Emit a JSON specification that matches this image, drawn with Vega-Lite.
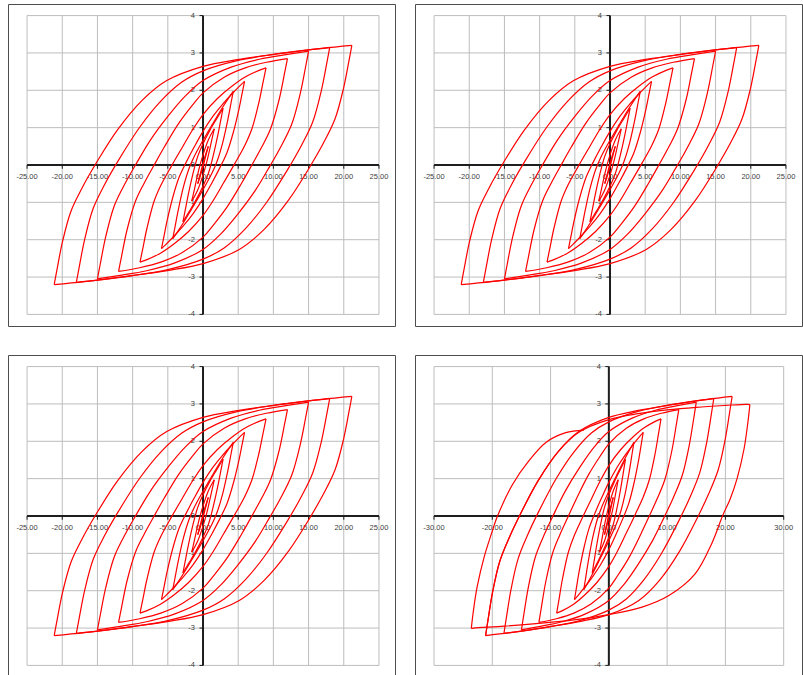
{
"$schema":"https://vega.github.io/schema/vega-lite/v6.json",
"background":"white",
"padding":{"left":7,"top":3,"right":0,"bottom":0},
"config":{"view":{"stroke":"#4d4d4d","strokeWidth":1},"axis":{"disable":true}},
"datasets":{
"gA":[{"v":-25,"t":"-25.00"},{"v":-20,"t":"-20.00"},{"v":-15,"t":"-15.00"},{"v":-10,"t":"-10.00"},{"v":-5,"t":"-5.00"},{"v":0,"t":"0.00"},{"v":5,"t":"5.00"},{"v":10,"t":"10.00"},{"v":15,"t":"15.00"},{"v":20,"t":"20.00"},{"v":25,"t":"25.00"}],
"gB":[{"v":-30,"t":"-30.00"},{"v":-20,"t":"-20.00"},{"v":-10,"t":"-10.00"},{"v":0,"t":"0.00"},{"v":10,"t":"10.00"},{"v":20,"t":"20.00"},{"v":30,"t":"30.00"}],
"gy":[{"v":-4,"t":"-4"},{"v":-3,"t":"-3"},{"v":-2,"t":"-2"},{"v":-1,"t":"-1"},{"v":0,"t":"0"},{"v":1,"t":"1"},{"v":2,"t":"2"},{"v":3,"t":"3"},{"v":4,"t":"4"}],
"L":[
{"s":"1d","x":21.15,"y":3.2},{"s":"1d","x":20.75,"y":2.8},{"s":"1d","x":19.95,"y":2.04},{"s":"1d","x":18.75,"y":1.23},{"s":"1d","x":17.15,"y":0.6},{"s":"1d","x":15.15,"y":-0.06},{"s":"1d","x":12.15,"y":-0.94},{"s":"1d","x":8.65,"y":-1.73},{"s":"1d","x":5.15,"y":-2.26},{"s":"1d","x":0,"y":-2.64},{"s":"1d","x":-4.85,"y":-2.82},{"s":"1d","x":-10.85,"y":-2.98},{"s":"1d","x":-16.85,"y":-3.12},{"s":"1d","x":-21.15,"y":-3.2},
{"s":"1r","x":-21.15,"y":-3.2},{"s":"1r","x":-20.75,"y":-2.8},{"s":"1r","x":-19.95,"y":-2.04},{"s":"1r","x":-18.75,"y":-1.23},{"s":"1r","x":-17.15,"y":-0.6},{"s":"1r","x":-15.15,"y":0.06},{"s":"1r","x":-12.15,"y":0.94},{"s":"1r","x":-8.65,"y":1.73},{"s":"1r","x":-5.15,"y":2.26},{"s":"1r","x":0,"y":2.64},{"s":"1r","x":4.85,"y":2.82},{"s":"1r","x":10.85,"y":2.98},{"s":"1r","x":16.85,"y":3.12},{"s":"1r","x":21.15,"y":3.2},
{"s":"2d","x":18,"y":3.14},{"s":"2d","x":17.6,"y":2.74},{"s":"2d","x":16.8,"y":1.98},{"s":"2d","x":15.6,"y":1.16},{"s":"2d","x":14,"y":0.53},{"s":"2d","x":12,"y":-0.13},{"s":"2d","x":9,"y":-1.01},{"s":"2d","x":6,"y":-1.71},{"s":"2d","x":3,"y":-2.22},{"s":"2d","x":0,"y":-2.52},{"s":"2d","x":-5,"y":-2.8},{"s":"2d","x":-10,"y":-2.96},{"s":"2d","x":-15,"y":-3.08},{"s":"2d","x":-18,"y":-3.14},
{"s":"2r","x":-18,"y":-3.14},{"s":"2r","x":-17.6,"y":-2.74},{"s":"2r","x":-16.8,"y":-1.98},{"s":"2r","x":-15.6,"y":-1.16},{"s":"2r","x":-14,"y":-0.53},{"s":"2r","x":-12,"y":0.13},{"s":"2r","x":-9,"y":1.01},{"s":"2r","x":-6,"y":1.71},{"s":"2r","x":-3,"y":2.22},{"s":"2r","x":0,"y":2.52},{"s":"2r","x":5,"y":2.8},{"s":"2r","x":10,"y":2.96},{"s":"2r","x":15,"y":3.08},{"s":"2r","x":18,"y":3.14},
{"s":"3d","x":15,"y":3.05},{"s":"3d","x":14.6,"y":2.65},{"s":"3d","x":13.8,"y":1.9},{"s":"3d","x":12.6,"y":1.09},{"s":"3d","x":11,"y":0.47},{"s":"3d","x":9.5,"y":-0.03},{"s":"3d","x":7.5,"y":-0.66},{"s":"3d","x":5,"y":-1.3},{"s":"3d","x":2.5,"y":-1.85},{"s":"3d","x":0,"y":-2.26},{"s":"3d","x":-4,"y":-2.62},{"s":"3d","x":-8,"y":-2.83},{"s":"3d","x":-12,"y":-2.96},{"s":"3d","x":-15,"y":-3.05},
{"s":"3r","x":-15,"y":-3.05},{"s":"3r","x":-14.6,"y":-2.65},{"s":"3r","x":-13.8,"y":-1.9},{"s":"3r","x":-12.6,"y":-1.09},{"s":"3r","x":-11,"y":-0.47},{"s":"3r","x":-9.5,"y":0.03},{"s":"3r","x":-7.5,"y":0.66},{"s":"3r","x":-5,"y":1.3},{"s":"3r","x":-2.5,"y":1.85},{"s":"3r","x":0,"y":2.26},{"s":"3r","x":4,"y":2.62},{"s":"3r","x":8,"y":2.83},{"s":"3r","x":12,"y":2.96},{"s":"3r","x":15,"y":3.05},
{"s":"4d","x":12,"y":2.85},{"s":"4d","x":11.6,"y":2.47},{"s":"4d","x":10.8,"y":1.74},{"s":"4d","x":9.6,"y":0.97},{"s":"4d","x":8.4,"y":0.5},{"s":"4d","x":7,"y":0.02},{"s":"4d","x":5.5,"y":-0.48},{"s":"4d","x":3.5,"y":-1.1},{"s":"4d","x":1.5,"y":-1.6},{"s":"4d","x":0,"y":-1.93},{"s":"4d","x":-3,"y":-2.35},{"s":"4d","x":-6,"y":-2.6},{"s":"4d","x":-9,"y":-2.75},{"s":"4d","x":-12,"y":-2.85},
{"s":"4r","x":-12,"y":-2.85},{"s":"4r","x":-11.6,"y":-2.47},{"s":"4r","x":-10.8,"y":-1.74},{"s":"4r","x":-9.6,"y":-0.97},{"s":"4r","x":-8.4,"y":-0.5},{"s":"4r","x":-7,"y":-0.02},{"s":"4r","x":-5.5,"y":0.48},{"s":"4r","x":-3.5,"y":1.1},{"s":"4r","x":-1.5,"y":1.6},{"s":"4r","x":0,"y":1.93},{"s":"4r","x":3,"y":2.35},{"s":"4r","x":6,"y":2.6},{"s":"4r","x":9,"y":2.75},{"s":"4r","x":12,"y":2.85},
{"s":"5d","x":8.95,"y":2.6},{"s":"5d","x":8.55,"y":2.23},{"s":"5d","x":7.95,"y":1.68},{"s":"5d","x":6.95,"y":0.97},{"s":"5d","x":5.95,"y":0.53},{"s":"5d","x":4.55,"y":0.05},{"s":"5d","x":2.95,"y":-0.47},{"s":"5d","x":1.45,"y":-0.95},{"s":"5d","x":0,"y":-1.35},{"s":"5d","x":-2.05,"y":-1.78},{"s":"5d","x":-4.05,"y":-2.1},{"s":"5d","x":-6.05,"y":-2.36},{"s":"5d","x":-8.05,"y":-2.54},{"s":"5d","x":-8.95,"y":-2.6},
{"s":"5r","x":-8.95,"y":-2.6},{"s":"5r","x":-8.55,"y":-2.23},{"s":"5r","x":-7.95,"y":-1.68},{"s":"5r","x":-6.95,"y":-0.97},{"s":"5r","x":-5.95,"y":-0.53},{"s":"5r","x":-4.55,"y":-0.05},{"s":"5r","x":-2.95,"y":0.47},{"s":"5r","x":-1.45,"y":0.95},{"s":"5r","x":0,"y":1.35},{"s":"5r","x":2.05,"y":1.78},{"s":"5r","x":4.05,"y":2.1},{"s":"5r","x":6.05,"y":2.36},{"s":"5r","x":8.05,"y":2.54},{"s":"5r","x":8.95,"y":2.6},
{"s":"6d","x":5.9,"y":2.24},{"s":"6d","x":5.6,"y":1.96},{"s":"6d","x":5.1,"y":1.49},{"s":"6d","x":4.3,"y":0.87},{"s":"6d","x":3.4,"y":0.33},{"s":"6d","x":2.4,"y":-0.07},{"s":"6d","x":1.2,"y":-0.5},{"s":"6d","x":0,"y":-0.9},{"s":"6d","x":-1.4,"y":-1.3},{"s":"6d","x":-2.8,"y":-1.63},{"s":"6d","x":-4.1,"y":-1.9},{"s":"6d","x":-5.3,"y":-2.13},{"s":"6d","x":-5.9,"y":-2.24},
{"s":"6r","x":-5.9,"y":-2.24},{"s":"6r","x":-5.6,"y":-1.96},{"s":"6r","x":-5.1,"y":-1.49},{"s":"6r","x":-4.3,"y":-0.87},{"s":"6r","x":-3.4,"y":-0.33},{"s":"6r","x":-2.4,"y":0.07},{"s":"6r","x":-1.2,"y":0.5},{"s":"6r","x":0,"y":0.9},{"s":"6r","x":1.4,"y":1.3},{"s":"6r","x":2.8,"y":1.63},{"s":"6r","x":4.1,"y":1.9},{"s":"6r","x":5.3,"y":2.13},{"s":"6r","x":5.9,"y":2.24},
{"s":"7d","x":4.3,"y":1.97},{"s":"7d","x":4,"y":1.68},{"s":"7d","x":3.5,"y":1.19},{"s":"7d","x":2.8,"y":0.6},{"s":"7d","x":2,"y":0.1},{"s":"7d","x":1.3,"y":-0.21},{"s":"7d","x":0,"y":-0.66},{"s":"7d","x":-1.3,"y":-1.08},{"s":"7d","x":-2.7,"y":-1.52},{"s":"7d","x":-3.7,"y":-1.81},{"s":"7d","x":-4.3,"y":-1.97},
{"s":"7r","x":-4.3,"y":-1.97},{"s":"7r","x":-4,"y":-1.68},{"s":"7r","x":-3.5,"y":-1.19},{"s":"7r","x":-2.8,"y":-0.6},{"s":"7r","x":-2,"y":-0.1},{"s":"7r","x":-1.3,"y":0.21},{"s":"7r","x":0,"y":0.66},{"s":"7r","x":1.3,"y":1.08},{"s":"7r","x":2.7,"y":1.52},{"s":"7r","x":3.7,"y":1.81},{"s":"7r","x":4.3,"y":1.97},
{"s":"8d","x":2.85,"y":1.52},{"s":"8d","x":2.55,"y":1.23},{"s":"8d","x":2.05,"y":0.75},{"s":"8d","x":1.45,"y":0.25},{"s":"8d","x":0.75,"y":-0.23},{"s":"8d","x":0,"y":-0.57},{"s":"8d","x":-0.95,"y":-0.92},{"s":"8d","x":-1.95,"y":-1.24},{"s":"8d","x":-2.85,"y":-1.52},
{"s":"8r","x":-2.85,"y":-1.52},{"s":"8r","x":-2.55,"y":-1.23},{"s":"8r","x":-2.05,"y":-0.75},{"s":"8r","x":-1.45,"y":-0.25},{"s":"8r","x":-0.75,"y":0.23},{"s":"8r","x":0,"y":0.57},{"s":"8r","x":0.95,"y":0.92},{"s":"8r","x":1.95,"y":1.24},{"s":"8r","x":2.85,"y":1.52},
{"s":"9d","x":1.6,"y":0.97},{"s":"9d","x":1.2,"y":0.63},{"s":"9d","x":0.6,"y":0.13},{"s":"9d","x":0,"y":-0.27},{"s":"9d","x":-0.8,"y":-0.69},{"s":"9d","x":-1.6,"y":-0.97},
{"s":"9r","x":-1.6,"y":-0.97},{"s":"9r","x":-1.2,"y":-0.63},{"s":"9r","x":-0.6,"y":-0.13},{"s":"9r","x":0,"y":0.27},{"s":"9r","x":0.8,"y":0.69},{"s":"9r","x":1.6,"y":0.97},
{"s":"10d","x":0.75,"y":0.5},{"s":"10d","x":0.35,"y":0.21},{"s":"10d","x":0,"y":-0.04},{"s":"10d","x":-0.4,"y":-0.3},{"s":"10d","x":-0.75,"y":-0.5},
{"s":"10r","x":-0.75,"y":-0.5},{"s":"10r","x":-0.35,"y":-0.21},{"s":"10r","x":0,"y":0.04},{"s":"10r","x":0.4,"y":0.3},{"s":"10r","x":0.75,"y":0.5},
{"s":"Xd","x":24.2,"y":2.98},{"s":"Xd","x":23.85,"y":2.5},{"s":"Xd","x":23.2,"y":1.8},{"s":"Xd","x":22,"y":1},{"s":"Xd","x":20.8,"y":0.45},{"s":"Xd","x":19.5,"y":0},{"s":"Xd","x":17.7,"y":-0.72},{"s":"Xd","x":14.8,"y":-1.55},{"s":"Xd","x":10.3,"y":-2.13},{"s":"Xd","x":5.7,"y":-2.44},{"s":"Xd","x":0,"y":-2.64},{"s":"Xd","x":-6,"y":-2.78},{"s":"Xd","x":-12.5,"y":-2.88},{"s":"Xd","x":-18,"y":-2.95},{"s":"Xd","x":-23.2,"y":-3},{"s":"Xd","x":-23.6,"y":-3.01},
{"s":"Xr","x":-21.15,"y":-3.2},{"s":"Xr","x":-20.75,"y":-2.8},{"s":"Xr","x":-19.95,"y":-2.04},{"s":"Xr","x":-18.75,"y":-1.23},{"s":"Xr","x":-17.15,"y":-0.6},{"s":"Xr","x":-15.15,"y":0.06},{"s":"Xr","x":-12.15,"y":0.94},{"s":"Xr","x":-8.65,"y":1.73},{"s":"Xr","x":-5.15,"y":2.24},{"s":"Xr","x":0,"y":2.58},{"s":"Xr","x":5,"y":2.74},{"s":"Xr","x":10,"y":2.84},{"s":"Xr","x":15,"y":2.91},{"s":"Xr","x":20,"y":2.96},{"s":"Xr","x":23.7,"y":2.99},{"s":"Xr","x":24.2,"y":2.98},
{"s":"Xp","x":-23.6,"y":-3.01},{"s":"Xp","x":-23.25,"y":-2.55},{"s":"Xp","x":-22.6,"y":-1.9},{"s":"Xp","x":-21.4,"y":-1.1},{"s":"Xp","x":-20.2,"y":-0.5},{"s":"Xp","x":-19.1,"y":0},{"s":"Xp","x":-16.5,"y":0.85},{"s":"Xp","x":-13.7,"y":1.48},{"s":"Xp","x":-10.8,"y":1.97},{"s":"Xp","x":-7.4,"y":2.23},{"s":"Xp","x":-4.3,"y":2.3}
]},
"spacing":27,
"vconcat":[
{"spacing":18,"hconcat":[
{"width":387,"height":322,"layer":[
{"data":{"name":"gA"},"mark":{"type":"rule","color":"#bdbdbd","strokeWidth":1},"encoding":{"x":{"field":"v","type":"quantitative","scale":{"domain":[-27.71,27.28],"nice":false,"zero":false}},"y":{"datum":-4,"type":"quantitative","scale":{"domain":[-4.31,4.31],"nice":false,"zero":false}},"y2":{"datum":4}}},
{"data":{"name":"gy"},"mark":{"type":"rule","color":"#bdbdbd","strokeWidth":1},"encoding":{"y":{"field":"v","type":"quantitative"},"x":{"datum":-25,"type":"quantitative"},"x2":{"datum":25}}},
{"data":{"name":"gA"},"transform":[{"filter":"datum.v==0"}],"mark":{"type":"rule","color":"#1e1e1e","strokeWidth":2},"encoding":{"x":{"field":"v","type":"quantitative"},"y":{"datum":-4,"type":"quantitative"},"y2":{"datum":4}}},
{"data":{"name":"gy"},"transform":[{"filter":"datum.v==0"}],"mark":{"type":"rule","color":"#1e1e1e","strokeWidth":2},"encoding":{"y":{"field":"v","type":"quantitative"},"x":{"datum":-25,"type":"quantitative"},"x2":{"datum":25}}},
{"data":{"name":"gA"},"mark":{"type":"rule","color":"#1e1e1e","strokeWidth":1},"encoding":{"x":{"field":"v","type":"quantitative"},"y":{"datum":0,"type":"quantitative"},"y2":{"datum":-0.1}}},
{"data":{"name":"gy"},"mark":{"type":"rule","color":"#1e1e1e","strokeWidth":1},"encoding":{"y":{"field":"v","type":"quantitative"},"x":{"datum":0,"type":"quantitative"},"x2":{"datum":-0.5}}},
{"data":{"name":"gA"},"mark":{"type":"text","font":"Liberation Sans","fontSize":7.5,"color":"#404040","dy":12,"baseline":"middle"},"encoding":{"x":{"field":"v","type":"quantitative"},"y":{"datum":0,"type":"quantitative"},"text":{"field":"t"}}},
{"data":{"name":"gy"},"mark":{"type":"text","font":"Liberation Sans","fontSize":7.5,"color":"#404040","dx":-8,"align":"right","baseline":"middle"},"encoding":{"y":{"field":"v","type":"quantitative"},"x":{"datum":0,"type":"quantitative"},"text":{"field":"t"}}},
{"data":{"name":"L"},"transform":[{"filter":"indexof(datum.s,'X')<0"}],"mark":{"type":"line","color":"#ff0000","strokeWidth":1.2,"interpolate":"catmull-rom"},"encoding":{"x":{"field":"x","type":"quantitative"},"y":{"field":"y","type":"quantitative"},"detail":{"field":"s"},"order":{"field":"x","type":"quantitative"}}}
]},
{"width":387,"height":322,"layer":[
{"data":{"name":"gA"},"mark":{"type":"rule","color":"#bdbdbd","strokeWidth":1},"encoding":{"x":{"field":"v","type":"quantitative","scale":{"domain":[-27.71,27.28],"nice":false,"zero":false}},"y":{"datum":-4,"type":"quantitative","scale":{"domain":[-4.31,4.31],"nice":false,"zero":false}},"y2":{"datum":4}}},
{"data":{"name":"gy"},"mark":{"type":"rule","color":"#bdbdbd","strokeWidth":1},"encoding":{"y":{"field":"v","type":"quantitative"},"x":{"datum":-25,"type":"quantitative"},"x2":{"datum":25}}},
{"data":{"name":"gA"},"transform":[{"filter":"datum.v==0"}],"mark":{"type":"rule","color":"#1e1e1e","strokeWidth":2},"encoding":{"x":{"field":"v","type":"quantitative"},"y":{"datum":-4,"type":"quantitative"},"y2":{"datum":4}}},
{"data":{"name":"gy"},"transform":[{"filter":"datum.v==0"}],"mark":{"type":"rule","color":"#1e1e1e","strokeWidth":2},"encoding":{"y":{"field":"v","type":"quantitative"},"x":{"datum":-25,"type":"quantitative"},"x2":{"datum":25}}},
{"data":{"name":"gA"},"mark":{"type":"rule","color":"#1e1e1e","strokeWidth":1},"encoding":{"x":{"field":"v","type":"quantitative"},"y":{"datum":0,"type":"quantitative"},"y2":{"datum":-0.1}}},
{"data":{"name":"gy"},"mark":{"type":"rule","color":"#1e1e1e","strokeWidth":1},"encoding":{"y":{"field":"v","type":"quantitative"},"x":{"datum":0,"type":"quantitative"},"x2":{"datum":-0.5}}},
{"data":{"name":"gA"},"mark":{"type":"text","font":"Liberation Sans","fontSize":7.5,"color":"#404040","dy":12,"baseline":"middle"},"encoding":{"x":{"field":"v","type":"quantitative"},"y":{"datum":0,"type":"quantitative"},"text":{"field":"t"}}},
{"data":{"name":"gy"},"mark":{"type":"text","font":"Liberation Sans","fontSize":7.5,"color":"#404040","dx":-8,"align":"right","baseline":"middle"},"encoding":{"y":{"field":"v","type":"quantitative"},"x":{"datum":0,"type":"quantitative"},"text":{"field":"t"}}},
{"data":{"name":"L"},"transform":[{"filter":"indexof(datum.s,'X')<0"}],"mark":{"type":"line","color":"#ff0000","strokeWidth":1.2,"interpolate":"catmull-rom"},"encoding":{"x":{"field":"x","type":"quantitative"},"y":{"field":"y","type":"quantitative"},"detail":{"field":"s"},"order":{"field":"x","type":"quantitative"}}}
]}
]},
{"spacing":18,"hconcat":[
{"width":387,"height":322,"layer":[
{"data":{"name":"gA"},"mark":{"type":"rule","color":"#bdbdbd","strokeWidth":1},"encoding":{"x":{"field":"v","type":"quantitative","scale":{"domain":[-27.71,27.28],"nice":false,"zero":false}},"y":{"datum":-4,"type":"quantitative","scale":{"domain":[-4.31,4.31],"nice":false,"zero":false}},"y2":{"datum":4}}},
{"data":{"name":"gy"},"mark":{"type":"rule","color":"#bdbdbd","strokeWidth":1},"encoding":{"y":{"field":"v","type":"quantitative"},"x":{"datum":-25,"type":"quantitative"},"x2":{"datum":25}}},
{"data":{"name":"gA"},"transform":[{"filter":"datum.v==0"}],"mark":{"type":"rule","color":"#1e1e1e","strokeWidth":2},"encoding":{"x":{"field":"v","type":"quantitative"},"y":{"datum":-4,"type":"quantitative"},"y2":{"datum":4}}},
{"data":{"name":"gy"},"transform":[{"filter":"datum.v==0"}],"mark":{"type":"rule","color":"#1e1e1e","strokeWidth":2},"encoding":{"y":{"field":"v","type":"quantitative"},"x":{"datum":-25,"type":"quantitative"},"x2":{"datum":25}}},
{"data":{"name":"gA"},"mark":{"type":"rule","color":"#1e1e1e","strokeWidth":1},"encoding":{"x":{"field":"v","type":"quantitative"},"y":{"datum":0,"type":"quantitative"},"y2":{"datum":-0.1}}},
{"data":{"name":"gy"},"mark":{"type":"rule","color":"#1e1e1e","strokeWidth":1},"encoding":{"y":{"field":"v","type":"quantitative"},"x":{"datum":0,"type":"quantitative"},"x2":{"datum":-0.5}}},
{"data":{"name":"gA"},"mark":{"type":"text","font":"Liberation Sans","fontSize":7.5,"color":"#404040","dy":12,"baseline":"middle"},"encoding":{"x":{"field":"v","type":"quantitative"},"y":{"datum":0,"type":"quantitative"},"text":{"field":"t"}}},
{"data":{"name":"gy"},"mark":{"type":"text","font":"Liberation Sans","fontSize":7.5,"color":"#404040","dx":-8,"align":"right","baseline":"middle"},"encoding":{"y":{"field":"v","type":"quantitative"},"x":{"datum":0,"type":"quantitative"},"text":{"field":"t"}}},
{"data":{"name":"L"},"transform":[{"filter":"indexof(datum.s,'X')<0"}],"mark":{"type":"line","color":"#ff0000","strokeWidth":1.2,"interpolate":"catmull-rom"},"encoding":{"x":{"field":"x","type":"quantitative"},"y":{"field":"y","type":"quantitative"},"detail":{"field":"s"},"order":{"field":"x","type":"quantitative"}}}
]},
{"width":387,"height":322,"layer":[
{"data":{"name":"gB"},"mark":{"type":"rule","color":"#bdbdbd","strokeWidth":1},"encoding":{"x":{"field":"v","type":"quantitative","scale":{"domain":[-33.26,33.14],"nice":false,"zero":false}},"y":{"datum":-4,"type":"quantitative","scale":{"domain":[-4.31,4.31],"nice":false,"zero":false}},"y2":{"datum":4}}},
{"data":{"name":"gy"},"mark":{"type":"rule","color":"#bdbdbd","strokeWidth":1},"encoding":{"y":{"field":"v","type":"quantitative"},"x":{"datum":-30,"type":"quantitative"},"x2":{"datum":30}}},
{"data":{"name":"gB"},"transform":[{"filter":"datum.v==0"}],"mark":{"type":"rule","color":"#1e1e1e","strokeWidth":2},"encoding":{"x":{"field":"v","type":"quantitative"},"y":{"datum":-4,"type":"quantitative"},"y2":{"datum":4}}},
{"data":{"name":"gy"},"transform":[{"filter":"datum.v==0"}],"mark":{"type":"rule","color":"#1e1e1e","strokeWidth":2},"encoding":{"y":{"field":"v","type":"quantitative"},"x":{"datum":-30,"type":"quantitative"},"x2":{"datum":30}}},
{"data":{"name":"gB"},"mark":{"type":"rule","color":"#1e1e1e","strokeWidth":1},"encoding":{"x":{"field":"v","type":"quantitative"},"y":{"datum":0,"type":"quantitative"},"y2":{"datum":-0.1}}},
{"data":{"name":"gy"},"mark":{"type":"rule","color":"#1e1e1e","strokeWidth":1},"encoding":{"y":{"field":"v","type":"quantitative"},"x":{"datum":0,"type":"quantitative"},"x2":{"datum":-0.6}}},
{"data":{"name":"gB"},"mark":{"type":"text","font":"Liberation Sans","fontSize":7.5,"color":"#404040","dy":12,"baseline":"middle"},"encoding":{"x":{"field":"v","type":"quantitative"},"y":{"datum":0,"type":"quantitative"},"text":{"field":"t"}}},
{"data":{"name":"gy"},"mark":{"type":"text","font":"Liberation Sans","fontSize":7.5,"color":"#404040","dx":-8,"align":"right","baseline":"middle"},"encoding":{"y":{"field":"v","type":"quantitative"},"x":{"datum":0,"type":"quantitative"},"text":{"field":"t"}}},
{"data":{"name":"L"},"mark":{"type":"line","color":"#ff0000","strokeWidth":1.2,"interpolate":"catmull-rom"},"encoding":{"x":{"field":"x","type":"quantitative"},"y":{"field":"y","type":"quantitative"},"detail":{"field":"s"},"order":{"field":"x","type":"quantitative"}}}
]}
]}
]
}
